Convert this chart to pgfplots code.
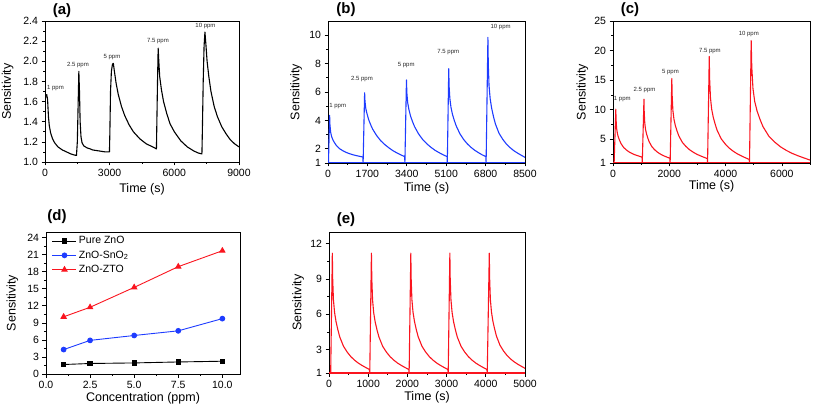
\documentclass[border=0pt]{standalone}
\usepackage{fontspec}
\setmainfont{Liberation Sans}
\usepackage{pgfplots}
\pgfplotsset{compat=1.18}
\definecolor{cblue}{RGB}{30,60,255}
\definecolor{cred}{RGB}{250,20,30}
\tikzset{ppm/.style={font=\fontsize{6}{7}\selectfont, text=black!85}}
\pgfplotsset{
  panel/.style={
    scale only axis,
    anchor=south west,
    axis line style={line width=0.8pt},
    tick align=outside, tick pos=left,
    major tick length=3.5pt, minor tick length=2pt,
    every tick/.append style={black, line width=0.7pt},
    tick label style={font=\fontsize{10.5}{12}\selectfont},
    label style={font=\fontsize{12.5}{14}\selectfont},
    /pgf/number format/assume math mode=true,
    /pgf/number format/1000 sep={},
    scaled ticks=false,
    ylabel={Sensitivity},
    xlabel={Time (s)},
  },
  curve/.style={line width=1.1pt, line join=round},
}
\begin{document}
\begin{tikzpicture}[x=1pt,y=1pt]
\useasboundingbox (0,0) rectangle (813,407);

% ---------------- (a) ----------------
\begin{axis}[panel, at={(45pt,245pt)}, width=194pt, height=141pt,
  xmin=0, xmax=9000, ymin=1.0, ymax=2.4,
  xtick={0,3000,6000,9000}, minor xtick={1500,4500,7500},
  ytick={1.0,1.2,1.4,1.6,1.8,2.0,2.2,2.4}, minor ytick={1.1,1.3,1.5,1.7,1.9,2.1,2.3},
  yticklabel style={/pgf/number format/fixed, /pgf/number format/fixed zerofill, /pgf/number format/precision=1},
  xlabel style={at={(axis description cs:0.5,-0.19)}, anchor=center},
  ylabel style={at={(axis description cs:-0.193,0.5)}, anchor=center},
]
\addplot[curve, black] coordinates {
(0,1.60) (30,1.65) (80,1.67) (120,1.62) (160,1.45) (200,1.36) (260,1.29) (350,1.23) (450,1.19) (600,1.15) (800,1.12) (1000,1.10) (1200,1.08) (1350,1.07) (1460,1.065)
(1500,1.20) (1540,1.60) (1570,1.90) (1600,1.70) (1630,1.40) (1670,1.25) (1720,1.19) (1800,1.16) (1950,1.14) (2100,1.13) (2200,1.12) (2350,1.115) (2500,1.11) (2650,1.105) (2800,1.10) (2990,1.10)
(3010,1.30) (3040,1.70) (3080,1.90) (3130,1.97) (3170,1.98) (3220,1.90) (3300,1.78) (3400,1.67) (3550,1.55) (3700,1.46) (3900,1.37) (4100,1.30) (4400,1.23) (4700,1.18) (5000,1.15) (5170,1.13)
(5190,1.40) (5220,1.80) (5250,2.13) (5280,2.00) (5320,1.85) (5400,1.72) (5500,1.60) (5650,1.48) (5800,1.38) (6000,1.30) (6300,1.21) (6600,1.15) (6900,1.11) (7100,1.09) (7280,1.08)
(7300,1.30) (7340,1.80) (7380,2.15) (7420,2.29) (7460,2.18) (7520,2.00) (7600,1.85) (7700,1.70) (7850,1.55) (8000,1.45) (8200,1.35) (8400,1.28) (8600,1.22) (8800,1.18) (9000,1.15)
};
\node[ppm] at (axis cs:487,1.735) {1 ppm};
\node[ppm] at (axis cs:1530,1.963) {2.5 ppm};
\node[ppm] at (axis cs:3108,2.04) {5 ppm};
\node[ppm] at (axis cs:5241,2.205) {7.5 ppm};
\node[ppm] at (axis cs:7444,2.353) {10 ppm};
\end{axis}

% ---------------- (b) ----------------
\begin{axis}[panel, at={(328pt,244pt)}, width=197pt, height=142pt,
  xmin=0, xmax=8500, ymin=1, ymax=11,
  xtick={0,1700,3400,5100,6800,8500}, minor xtick={850,2550,4250,5950,7650},
  ytick={1,2,4,6,8,10}, minor ytick={3,5,7,9},
  xlabel style={at={(axis description cs:0.5,-0.176)}, anchor=center},
  ylabel style={at={(axis description cs:-0.162,0.5)}, anchor=center},
]
\addplot[curve, cblue] coordinates {(0,1) (8500,1)};
\addplot[curve, cblue] coordinates {
(0,1) (20,1) (70,4.35) (84,3.705) (113,3.178) (156,2.856) (214,2.621) (285,2.416) (357,2.24) (501,2.006) (644,1.86) (788,1.742) (931,1.654) (1075,1.581) (1218,1.523) (1362,1.47) (1505,1.42)
(1515,1) (1580,5.95) (1597,5.32) (1632,4.825) (1684,4.465) (1753,4.06) (1839,3.70) (1926,3.385) (2098,2.935) (2271,2.575) (2444,2.305) (2617,2.08) (2790,1.878) (2962,1.72) (3135,1.576) (3308,1.45)
(3318,1) (3385,6.85) (3403,5.932) (3438,5.257) (3490,4.771) (3560,4.312) (3648,3.907) (3736,3.556) (3911,3.043) (4086,2.652) (4262,2.355) (4437,2.112) (4612,1.901) (4787,1.734) (4963,1.58) (5138,1.45)
(5148,1) (5210,7.65) (5226,6.41) (5258,5.542) (5306,4.922) (5370,4.426) (5450,3.992) (5530,3.62) (5691,3.062) (5851,2.659) (6011,2.349) (6171,2.101) (6331,1.896) (6492,1.729) (6652,1.574) (6812,1.45)
(6822,1) (6900,9.85) (6916,7.991) (6948,6.47) (6996,5.541) (7060,4.865) (7140,4.273) (7220,3.766) (7380,3.09) (7540,2.668) (7700,2.33) (7860,2.076) (8020,1.865) (8180,1.696) (8340,1.544) (8500,1.4)
};
\node[ppm] at (axis cs:420,5.0) {1 ppm};
\node[ppm] at (axis cs:1466,6.92) {2.5 ppm};
\node[ppm] at (axis cs:3374,7.9) {5 ppm};
\node[ppm] at (axis cs:5191,8.79) {7.5 ppm};
\node[ppm] at (axis cs:7449,10.57) {10 ppm};
\end{axis}

% ---------------- (c) ----------------
\begin{axis}[panel, at={(613pt,244pt)}, width=197pt, height=142pt,
  xmin=0, xmax=7000, ymin=1, ymax=25,
  xtick={0,2000,4000,6000}, minor xtick={1000,3000,5000,7000},
  ytick={1,5,10,15,20,25}, minor ytick={2.5,7.5,12.5,17.5,22.5},
  xlabel style={at={(axis description cs:0.5,-0.165)}, anchor=center},
  ylabel style={at={(axis description cs:-0.155,0.5)}, anchor=center},
]
\addplot[curve, cred] coordinates {(0,1) (7000,1)};
\addplot[curve, cred] coordinates {
(0,1) (40,1) (100,10.1) (109,8.318) (128,6.86) (156,5.969) (193,5.321) (240,4.754) (286,4.268) (379,3.62) (472,3.215) (565,2.891) (658,2.648) (751,2.446) (844,2.284) (937,2.138) (1030,2.0)
(1040,1) (1100,11.8) (1109,9.6) (1128,7.8) (1155,6.7) (1192,5.9) (1238,5.2) (1284,4.6) (1376,3.8) (1468,3.3) (1560,2.9) (1652,2.6) (1744,2.35) (1836,2.15) (1928,1.97) (2020,1.8)
(2030,1) (2090,15.3) (2103,12.319) (2128,9.88) (2166,8.39) (2216,7.306) (2279,6.357) (2342,5.544) (2468,4.46) (2594,3.783) (2720,3.241) (2846,2.834) (2972,2.495) (3098,2.224) (3224,1.98) (3350,1.75)
(3360,1) (3420,19.0) (3434,15.172) (3463,12.04) (3505,10.126) (3562,8.734) (3633,7.516) (3704,6.472) (3846,5.08) (3988,4.21) (4130,3.514) (4272,2.992) (4414,2.557) (4556,2.209) (4698,1.896) (4840,1.6)
(4850,1) (4910,21.7) (4931,17.256) (4973,13.62) (5035,11.398) (5119,9.782) (5224,8.368) (5328,7.156) (5537,5.54) (5746,4.53) (5955,3.722) (6164,3.116) (6373,2.611) (6582,2.207) (6791,1.843) (7000,1.5)
};
\node[ppm] at (axis cs:330,11.83) {1 ppm};
\node[ppm] at (axis cs:1120,13.28) {2.5 ppm};
\node[ppm] at (axis cs:2042,16.3) {5 ppm};
\node[ppm] at (axis cs:3443,20.0) {7.5 ppm};
\node[ppm] at (axis cs:4824,22.8) {10 ppm};
\end{axis}

% ---------------- (d) ----------------
\begin{axis}[panel, at={(46pt,33pt)}, width=194pt, height=142pt,
  xmin=0, xmax=11, ymin=0, ymax=25,
  xtick={0,2.5,5,7.5,10}, minor xtick={1.25,3.75,6.25,8.75},
  ytick={0,3,6,9,12,15,18,21,24}, minor ytick={1.5,4.5,7.5,10.5,13.5,16.5,19.5,22.5},
  xticklabel style={/pgf/number format/fixed, /pgf/number format/fixed zerofill, /pgf/number format/precision=1},
  xlabel={Concentration (ppm)},
  xlabel style={at={(axis description cs:0.5,-0.173)}, anchor=center},
  ylabel style={at={(axis description cs:-0.173,0.5)}, anchor=center},
  legend style={at={(rel axis cs:0.025,0.99)}, anchor=north west, draw=none, fill=none,
    font=\fontsize{10.5}{12}\selectfont, row sep=1.5pt, inner sep=1pt},
  legend cell align=left,
  legend image code/.code={\draw[mark repeat=2,mark phase=2,#1] plot coordinates {(0pt,0pt) (12pt,0pt) (24pt,0pt)};},
]
\addplot[black, line width=0.9pt, mark=square*, mark size=2.2pt] coordinates {(1,1.67) (2.5,1.85) (5,1.95) (7.5,2.12) (10,2.25)};
\addlegendentry{Pure ZnO}
\addplot[cblue, line width=0.9pt, mark=*, mark size=2.4pt] coordinates {(1,4.3) (2.5,5.92) (5,6.78) (7.5,7.6) (10,9.75)};
\addlegendentry{ZnO-SnO\textsubscript{2}}
\addplot[cred, line width=0.9pt, mark=triangle*, mark size=3pt] coordinates {(1,10.07) (2.5,11.75) (5,15.25) (7.5,18.9) (10,21.7)};
\addlegendentry{ZnO-ZTO}
\end{axis}

% ---------------- (e) ----------------
\begin{axis}[panel, at={(329pt,34pt)}, width=196pt, height=141pt,
  xmin=0, xmax=5000, ymin=1, ymax=13,
  xtick={0,1000,2000,3000,4000,5000}, minor xtick={500,1500,2500,3500,4500},
  ytick={1,3,6,9,12}, minor ytick={4.5,7.5,10.5},
  xlabel style={at={(axis description cs:0.5,-0.175)}, anchor=center},
  ylabel style={at={(axis description cs:-0.158,0.5)}, anchor=center},
]
\addplot[curve, cred] coordinates {(0,1) (5000,1)};
\addplot[curve, cred] coordinates {
(0,1) (43,1) (85,11.2) (94,9.022) (113,7.24) (142,6.151) (180,5.359) (227,4.666) (274,4.072) (369,3.28) (463,2.785) (558,2.389) (652,2.092) (747,1.845) (841,1.647) (936,1.468) (1030,1.3)
(1040,1) (1082,11.2) (1092,9.022) (1111,7.24) (1139,6.151) (1177,5.359) (1225,4.666) (1273,4.072) (1368,3.28) (1463,2.785) (1559,2.389) (1654,2.092) (1749,1.845) (1844,1.647) (1940,1.468) (2035,1.3)
(2044,1) (2087,11.2) (2096,9.022) (2115,7.24) (2144,6.151) (2182,5.359) (2229,4.666) (2276,4.072) (2371,3.28) (2465,2.785) (2560,2.389) (2654,2.092) (2749,1.845) (2843,1.647) (2938,1.468) (3032,1.3)
(3041,1) (3083,11.2) (3092,9.022) (3111,7.24) (3140,6.151) (3178,5.359) (3225,4.666) (3272,4.072) (3367,3.28) (3461,2.785) (3556,2.389) (3650,2.092) (3745,1.845) (3839,1.647) (3934,1.468) (4028,1.3)
(4037,1) (4089,11.2) (4098,9.044) (4116,7.28) (4144,6.202) (4180,5.418) (4226,4.732) (4271,4.144) (4362,3.36) (4453,2.87) (4545,2.478) (4636,2.184) (4727,1.939) (4818,1.743) (4909,1.567) (5000,1.4)
};
\end{axis}

\node[font=\bfseries\fontsize{15}{17}\selectfont] at (62,396) {(a)};
\node[font=\bfseries\fontsize{15}{17}\selectfont] at (346,397) {(b)};
\node[font=\bfseries\fontsize{15}{17}\selectfont] at (630,397) {(c)};
\node[font=\bfseries\fontsize{15}{17}\selectfont] at (57,190.5) {(d)};
\node[font=\bfseries\fontsize{15}{17}\selectfont] at (346,187) {(e)};
\end{tikzpicture}
\end{document}
